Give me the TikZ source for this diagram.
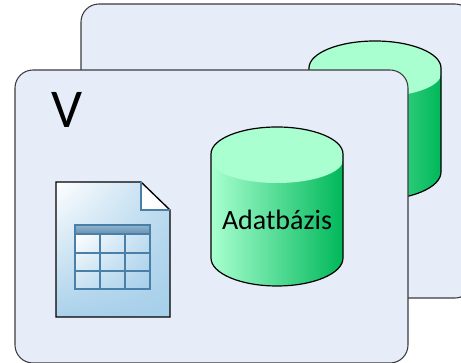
\documentclass[tikz,border=0pt]{standalone}
\usepackage{fontspec}
\usetikzlibrary{shadings}
\setmainfont{Carlito}
\definecolor{panelfill}{HTML}{E6ECF8}
\definecolor{panelline}{HTML}{3C3C40}
\definecolor{dblight}{HTML}{A9FFD0}
\definecolor{dbdark}{HTML}{00B85A}
\definecolor{docline}{HTML}{4A7FA8}
\definecolor{docblue}{HTML}{A6CFEA}
\newcommand{\dbdrum}[2]{
	\begin{scope}[shift={(#1,#2)}]
	\path[left color=dblight,right color=dbdark] (-66,0) -- (66,0) -- (66,-104) arc[start angle=0,end angle=-180,x radius=66,y radius=28] -- cycle;
	\fill[dblight] (-66,-6) arc[start angle=180,end angle=360,x radius=66,y radius=23] -- (66,0) arc[start angle=0,end angle=180,x radius=66,y radius=27] -- cycle;
	\draw[drumline] (-66,0) arc[start angle=180,end angle=0,x radius=66,y radius=27] -- (66,-104) arc[start angle=0,end angle=-180,x radius=66,y radius=28] -- cycle;
	\end{scope}
}
\tikzset{drumline/.style={draw=black,line width=0.9pt}}
\begin{document}
\begin{tikzpicture}[x=0.75pt,y=0.75pt]
	\tikzstyle{panel}=[draw=panelline,fill=panelfill,line width=0.8pt,rounded corners=13.5pt]
	\tikzstyle{gridline}=[draw=docline,line width=1pt]
	\clip (0,0) rectangle (461,363);
	\fill[white] (0,0) rectangle (461,363);

	% back layer
	\draw[panel] (81,65) rectangle (473,359);
	\dbdrum{375}{295}

	% front layer
	\draw[panel] (15,0) rectangle (408,293);
	\dbdrum{277}{209}
	\node[font=\fontsize{21}{21}\selectfont,text=black,inner sep=0pt] (dblabel) at (277,143) {Adatbázis};
	\node[font=\fontsize{41}{41}\selectfont,text=black,inner sep=0pt,anchor=base] (title) at (67.5,235) {V};

	% document icon
	\path[upper left=white,upper right=docblue!75,lower right=docblue,lower left=docblue!95] (56,46) -- (56,181) -- (141,181) -- (170,153) -- (170,46) -- cycle;
	\fill[white] (141,181) -- (170,153) -- (141,153) -- cycle;
	\draw[black,line width=1pt] (56,46) -- (56,181) -- (141,181) -- (170,153) -- (170,46) -- cycle;
	\draw[docline,line width=1pt] (141,181) -- (141,153) -- (170,153);

	% table on the icon
	\path[upper left=white,upper right=docblue!70,lower right=docblue,lower left=docblue!60] (75,74) rectangle (150,129);
	\path[top color=docline!60,bottom color=docline!85] (75,129) rectangle (150,138);
	\draw[gridline] (75,74) rectangle (150,138);
	\draw[gridline] (75,129) -- (150,129);
	\draw[gridline] (75,110) -- (150,110);
	\draw[gridline] (75,92) -- (150,92);
	\draw[gridline] (100,74) -- (100,129);
	\draw[gridline] (125,74) -- (125,129);
\end{tikzpicture}
\end{document}
